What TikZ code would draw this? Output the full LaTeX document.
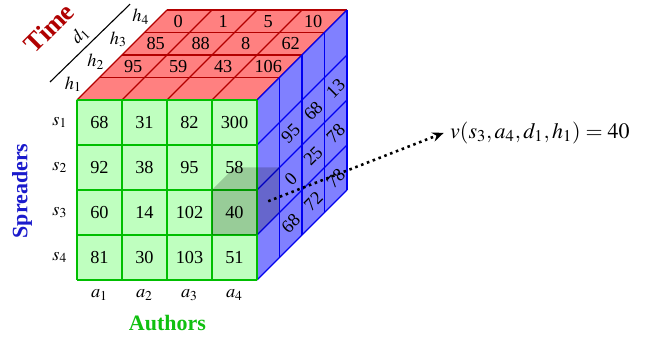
\documentclass[tikz,border=0pt]{standalone}
\usepackage{mathptmx}
\usepackage{fontspec}
\setmainfont{Liberation Serif}
\usetikzlibrary{arrows.meta, positioning}
\definecolor{frontfill}{HTML}{BFFFBF}
\definecolor{frontline}{HTML}{00BF00}
\definecolor{topfill}{HTML}{FF8080}
\definecolor{topline}{HTML}{B30000}
\definecolor{sidefill}{HTML}{8080FF}
\definecolor{sideline}{HTML}{0000F0}
\definecolor{timered}{HTML}{B00000}
\definecolor{spreadblue}{HTML}{1A1ACC}
\definecolor{authgreen}{HTML}{10C010}

\begin{document}
\begin{tikzpicture}[
  x=0.8636cm, y=0.8636cm,
  >={Stealth[length=2.2mm, width=1.8mm]},
  gridline/.style={line width=0.6pt},
  sidenum/.style={rotate=45, inner sep=1pt},
  axislabel/.style={font=\large\bfseries},
]

% Frame
\useasboundingbox (-1.711,-1.4) rectangle (12.889,6.222);

% Top face (time)
\fill[topfill] (0,4) -- (4,4) -- (6,6) -- (2,6) -- cycle;
\foreach \j in {0,...,4}
  \draw[topline, gridline] ({0.5*\j},{4+0.5*\j}) -- ({4+0.5*\j},{4+0.5*\j});
\foreach \i in {0,...,4}
  \draw[topline, gridline] (\i,4) -- (\i+2,6);

% Right face
\fill[sidefill] (4,0) -- (6,2) -- (6,6) -- (4,4) -- cycle;
\foreach \j in {0,...,4}
  \draw[sideline, gridline] ({4+0.5*\j},{0.5*\j}) -- ({4+0.5*\j},{4+0.5*\j});
\foreach \r in {0,...,4}
  \draw[sideline, gridline] (4,\r) -- (6,\r+2);

% Front face (spreaders x authors)
\fill[frontfill] (0,0) rectangle (4,4);
\foreach \k in {0,...,4} {
  \draw[frontline, gridline] (\k,0) -- (\k,4);
  \draw[frontline, gridline] (0,\k) -- (4,\k);
}

% Front values
\foreach \row [count=\r] in {{68,31,82,300},{92,38,95,58},{60,14,102,40},{81,30,103,51}}
  \foreach \v [count=\c] in \row
    \node (f\r\c) at (\c-0.5, 4.5-\r) {\v};

% Top values, h2 to h4
\foreach \row [count=\j] in {{95,59,43,106},{85,88,8,62},{0,1,5,10}}
  \foreach \v [count=\c] in \row
    \node (t\j\c) at ({\c-0.5+0.5*(\j+0.5)}, {4+0.5*(\j+0.5)}) {\v};

% Right values, s2 to s4
\foreach \row [count=\r from 2] in {{95,68,13},{0,25,78},{68,72,78}}
  \foreach \v [count=\j] in \row
    \node[sidenum] (r\r\j) at ({4+0.5*(\j+0.5)}, {4.5-\r+0.5*(\j+0.5)}) {\v};

% Selected cell
\fill[black, opacity=0.2] (3,1) -- (4,1) -- (4.5,1.5) -- (4.5,2.5) -- (3.5,2.5) -- (3,2) -- cycle;
\coordinate (hit) at (4.25,1.75);

% Value of the selected cell
\node[anchor=west, font=\large] (val) at (8.15,3.27) {$v(s_3,a_4,d_1,h_1) = 40$};
\draw[->, line width=1.4pt, dotted] (hit) -- (val.west);

% Dimension labels
\foreach \r in {1,...,4}
  \node (sl\r) at (-0.38, 4.5-\r) {$s_\r$};
\foreach \c in {1,...,4}
  \node (al\c) at (\c-0.5, -0.33) {$a_\c$};
\foreach \j in {1,...,4}
  \node (hl\j) at ({0.5*\j-0.58}, {0.5*\j+3.85}) {$h_\j$};
\draw[line width=0.6pt] (-0.6,4.4) -- (1.18,6.13);
\node[rotate=45] (dl) at (0.07,5.44) {$d_1$};

\node[axislabel, rotate=45, font=\Large\bfseries, text=timered] (time) at (-0.62,5.6) {Time};
\node[axislabel, rotate=90, text=spreadblue] (spr) at (-1.22,1.98) {Spreaders};
\node[axislabel, text=authgreen] (auth) at (2.01,-0.96) {Authors};

\end{tikzpicture}
\end{document}
